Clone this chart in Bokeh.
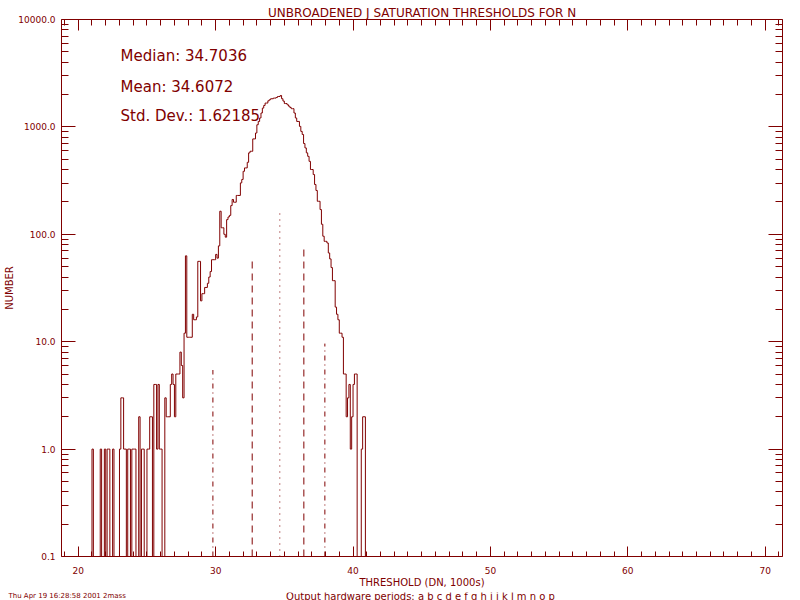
import numpy as np
from bokeh.plotting import figure
from bokeh.layouts import column
from bokeh.models import (FixedTicker, LinearAxis, LogAxis, PrintfTickFormatter,
                          CustomJSTickFormatter, Label, Range1d)
from bokeh.core.properties import value
from bokeh.embed import file_html
from bokeh.resources import INLINE

# ---------------- data ----------------
TITLE = "UNBROADENED J SATURATION THRESHOLDS FOR N"
XLABEL = "THRESHOLD (DN, 1000s)"
YLABEL = "NUMBER"
STAMP = "Thu Apr 19 16:28:58 2001 2mass"
FOOTER = "Output hardware periods: a b c d e f g h i j k l m n o p"
STATS_TEXT = ["Median:  34.7036", "Mean:  34.6072", "Std. Dev.:  1.62185"]

BIN_START = 21.0
BIN_WIDTH = 0.1
COUNTS = [
    1, 0, 0, 0, 0, 0, 1, 0, 0, 1,                      # 21.0
    0, 1, 1, 0, 0, 1, 0, 0, 0, 0,                      # 22.0
    1, 3, 3, 1, 1, 0, 1, 1, 0, 1,                      # 23.0
    1, 1, 0, 0, 2, 0, 1, 1, 0, 0,                      # 24.0
    1, 1, 2, 2, 0, 4, 4, 1, 4, 1,                      # 25.0
    1, 0, 0, 3, 2, 2, 2, 4, 5, 4,                      # 26.0
    2, 5, 5, 5, 8, 6, 3, 12, 63, 11,                   # 27.0
    11, 11, 11, 18, 16, 16, 17, 56, 56, 24,            # 28.0
    28, 28, 32, 32, 35, 40, 45, 58, 58, 58,            # 29.0
    65, 60, 78, 164, 115, 115, 100, 94, 137, 145,      # 30.0
    150, 185, 211, 199, 199, 230, 230, 230, 301, 324,  # 31.0
    386, 415, 415, 468, 573, 593, 593, 773, 773, 877,  # 32.0
    1047, 1124, 1211, 1347, 1497, 1584, 1667, 1667, 1750, 1790,  # 33.0
    1829, 1829, 1855, 1855, 1879, 1919, 1919, 1960, 1829, 1740,  # 34.0
    1650, 1650, 1607, 1560, 1517, 1478, 1478, 1347, 1211, 1124,  # 35.0
    1124, 1011, 908, 850, 700, 637, 573, 532, 478, 401,          # 36.0
    401, 360, 291, 256, 203, 203, 170, 124, 96, 86,              # 37.0
    86, 83, 67, 59, 49, 37, 37, 21, 18, 16,                      # 38.0
    12, 12, 11, 5, 5, 2, 3, 4, 1, 2,                             # 39.0
    4, 5, 5, 0, 0, 0, 1, 2, 2, 0,                                # 40.0
]

REF_X = [29.80, 32.66, 34.67, 36.42, 37.95]
REF_TOP = [5.45, 58.5, 167.0, 77.6, 9.6]
REF_STYLE = ["dashdot", "dashed", "dotted", "dashed", "dashdot"]

X_MAJOR = [20, 30, 40, 50, 60, 70]
X_MINOR = list(range(19, 72))
Y_MAJOR = [0.1, 1, 10, 100, 1000, 10000]
Y_MINOR = [m * 10.0 ** e for e in range(-1, 4) for m in range(2, 10)]

# ---------------- style ----------------
MAROON = "#800000"
FONT = "DejaVu Sans"
DASHES = {"dashed": "7 5", "dotted": "1 5", "dashdot": "5 4 1 4"}

p = figure(width=800, height=590,
           x_range=Range1d(18.78, 71.26), y_range=Range1d(0.1, 10000),
           y_axis_type="log", output_backend="svg", toolbar_location=None,
           min_border_left=61, min_border_right=18, min_border_top=19,
           min_border_bottom=33, outline_line_color=None,
           background_fill_color="white", border_fill_color="white")
p.grid.visible = False

p.title.text = TITLE
p.title.align = "center"
p.title.text_font = FONT
p.title.text_font_size = "12px"
p.title.text_font_style = "normal"
p.title.text_color = MAROON
p.title.standoff = 0
p.title.offset = 0

xt = FixedTicker(ticks=X_MAJOR, minor_ticks=X_MINOR)
yt = FixedTicker(ticks=Y_MAJOR, minor_ticks=Y_MINOR)
blank = CustomJSTickFormatter(code="return ''")


def style_axis(ax, ticker, major_len, minor_len):
    ax.ticker = ticker
    ax.axis_line_color = MAROON
    ax.axis_line_width = 1
    ax.major_tick_line_color = MAROON
    ax.minor_tick_line_color = MAROON
    ax.major_tick_in = major_len
    ax.major_tick_out = 0
    ax.minor_tick_in = minor_len
    ax.minor_tick_out = 0
    ax.major_label_text_color = MAROON
    ax.major_label_text_font = FONT
    ax.major_label_text_font_size = "9px"
    ax.axis_label_text_color = MAROON
    ax.axis_label_text_font = FONT
    ax.axis_label_text_font_style = "normal"
    ax.axis_label_text_font_size = "10px"
    ax.axis_label_standoff = 0


xa = p.xaxis[0]
style_axis(xa, xt, 10, 5)
xa.major_label_standoff = 10
xa.axis_label = XLABEL
ya = p.yaxis[0]
style_axis(ya, yt, 14, 7)
ya.formatter = PrintfTickFormatter(format="%.1f")
ya.major_label_standoff = 6
ya.axis_label = YLABEL

top = LinearAxis(formatter=blank, major_label_standoff=0)
style_axis(top, xt, 11, 6)
p.add_layout(top, "above")
right = LogAxis(formatter=blank, major_label_standoff=0)
style_axis(right, yt, 14, 7)
p.add_layout(right, "right")

# ---------------- histogram (step outline) ----------------
FLOOR = 0.01  # zero counts drop below the bottom of the log axis
n = len(COUNTS)
edges = BIN_START + BIN_WIDTH * np.arange(n + 1)
xs = [edges[0]]
ys = [FLOOR]
for i, c in enumerate(COUNTS):
    v = c if c > 0 else FLOOR
    xs += [edges[i], edges[i + 1]]
    ys += [v, v]
xs.append(edges[-1])
ys.append(FLOOR)
p.line(xs, ys, line_color=MAROON, line_width=1)

# ---------------- reference lines ----------------
for xv, top_v, style in zip(REF_X, REF_TOP, REF_STYLE):
    p.segment(x0=[xv], y0=[Y_MAJOR[0]], x1=[xv], y1=[top_v],
              line_color=MAROON, line_width=1, line_dash=DASHES[style])

# ---------------- statistics text ----------------
for txt, yv in zip(STATS_TEXT, [4583, 2377, 1270]):
    p.add_layout(Label(x=23.08, y=yv, text=txt, text_align="left",
                       text_baseline="alphabetic", text_font=FONT,
                       text_font_size="15px", text_color=MAROON))

# ---------------- footer strip (stamp + hardware periods) ----------------
f = figure(width=800, height=10, x_range=Range1d(0, 800), y_range=Range1d(0, 10),
           output_backend="svg", toolbar_location=None, min_border=0,
           x_axis_location=None, y_axis_location=None, title=None,
           outline_line_color=None, background_fill_color="white",
           border_fill_color="white")
f.frame_align = False
f.grid.visible = False
f.text(x=[8], y=[7.0], text=[STAMP], text_font=value(FONT),
       text_font_size="7px", text_color=MAROON, text_align="left",
       text_baseline="middle")
f.text(x=[420], y=[6.0], text=[FOOTER], text_font=value(FONT),
       text_font_size="10px", text_color=MAROON, text_align="center",
       text_baseline="middle")

layout = column(p, f, spacing=0)
open("out.html", "w").write(file_html(layout, INLINE))
